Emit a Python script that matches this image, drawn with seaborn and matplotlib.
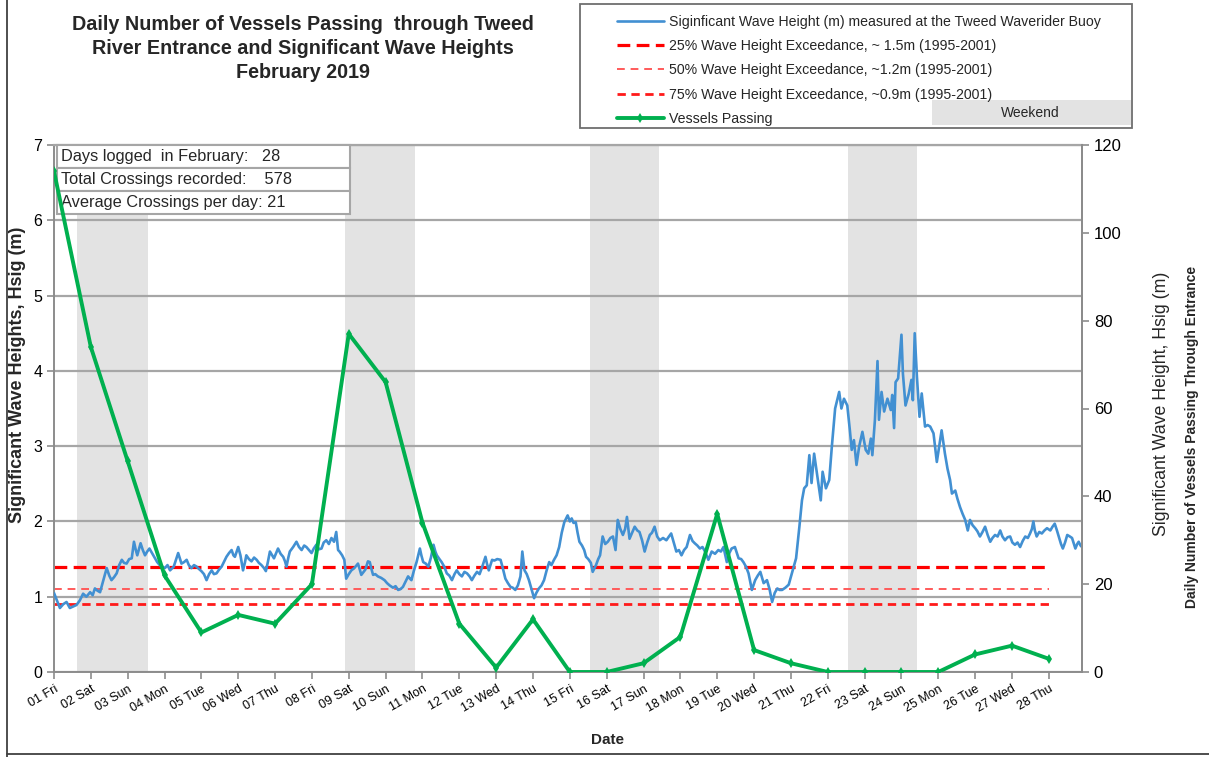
"""
Daily vessel crossings at the Tweed River entrance vs significant wave height
February 2019
"""

import matplotlib
matplotlib.use("Agg")
import matplotlib.pyplot as plt
import seaborn as sns
import pandas as pd
from matplotlib.lines import Line2D
from matplotlib.patches import Rectangle


# Set style
sns.set_style("ticks")
plt.rcParams['font.family'] = ['Liberation Sans', 'DejaVu Sans']

W, H = 1209, 757

# ---------------- data ----------------
day_nums = list(range(1, 29))
day_labels = ['01 Fri', '02 Sat', '03 Sun', '04 Mon', '05 Tue', '06 Wed', '07 Thu',
              '08 Fri', '09 Sat', '10 Sun', '11 Mon', '12 Tue', '13 Wed', '14 Thu',
              '15 Fri', '16 Sat', '17 Sun', '18 Mon', '19 Tue', '20 Wed', '21 Thu',
              '22 Fri', '23 Sat', '24 Sun', '25 Mon', '26 Tue', '27 Wed', '28 Thu']

vessels = [114, 74, 48, 22, 9, 13, 11, 20, 77, 66, 34, 11, 1, 12,
           0, 0, 2, 8, 36, 5, 2, 0, 0, 0, 0, 4, 6, 3]

# wave buoy record (day of month, Hsig in m)
wave_day = [
    1.00, 1.08, 1.16, 1.25, 1.34, 1.43, 1.52, 1.61, 1.70, 1.79, 1.88, 1.98, 2.05, 2.11, 2.18,
    2.25, 2.34, 2.43, 2.50, 2.56, 2.63, 2.70, 2.77, 2.84, 2.90, 2.97, 3.04, 3.11, 3.17, 3.22,
    3.26, 3.35, 3.41, 3.47, 3.53, 3.59, 3.66, 3.74, 3.80, 3.87, 3.94, 4.01, 4.08, 4.15, 4.25,
    4.37, 4.46, 4.53, 4.60, 4.66, 4.73, 4.80, 4.87, 4.93, 5.00, 5.07, 5.14, 5.21, 5.28, 5.34,
    5.41, 5.48, 5.55, 5.62, 5.68, 5.75, 5.82, 5.87, 5.91, 6.00, 6.06, 6.13, 6.18, 6.22, 6.29,
    6.36, 6.43, 6.50, 6.56, 6.63, 6.70, 6.75, 6.80, 6.86, 6.92, 6.97, 7.03, 7.08, 7.15, 7.22,
    7.27, 7.31, 7.36, 7.40, 7.49, 7.58, 7.65, 7.72, 7.79, 7.85, 7.92, 7.99, 8.05, 8.12, 8.19,
    8.26, 8.32, 8.39, 8.46, 8.53, 8.60, 8.66, 8.71, 8.75, 8.82, 8.88, 8.93, 9.00, 9.07, 9.15,
    9.25, 9.30, 9.34, 9.45, 9.52, 9.57, 9.62, 9.66, 9.72, 9.79, 9.88, 9.97, 10.04, 10.11, 10.20,
    10.27, 10.34, 10.40, 10.47, 10.54, 10.61, 10.66, 10.70, 10.77, 10.84, 10.93, 10.97, 11.02, 11.09, 11.16,
    11.23, 11.30, 11.35, 11.39, 11.46, 11.52, 11.59, 11.66, 11.73, 11.80, 11.87, 11.93, 12.00, 12.07, 12.14,
    12.21, 12.28, 12.34, 12.41, 12.48, 12.55, 12.61, 12.71, 12.75, 12.80, 12.89, 12.95, 13.03, 13.12, 13.18,
    13.25, 13.32, 13.39, 13.45, 13.52, 13.59, 13.66, 13.71, 13.77, 13.83, 13.89, 13.96, 14.03, 14.09, 14.16,
    14.23, 14.30, 14.37, 14.44, 14.50, 14.57, 14.64, 14.71, 14.78, 14.85, 14.94, 15.00, 15.05, 15.10, 15.16,
    15.21, 15.26, 15.33, 15.39, 15.44, 15.50, 15.57, 15.62, 15.71, 15.77, 15.82, 15.89, 15.96, 16.03, 16.10,
    16.17, 16.24, 16.30, 16.37, 16.44, 16.50, 16.55, 16.62, 16.69, 16.76, 16.83, 16.89, 16.96, 17.03, 17.10,
    17.17, 17.23, 17.30, 17.37, 17.44, 17.53, 17.62, 17.69, 17.75, 17.82, 17.89, 17.96, 18.03, 18.10, 18.17,
    18.26, 18.33, 18.39, 18.46, 18.53, 18.60, 18.67, 18.76, 18.85, 18.94, 19.03, 19.10, 19.17, 19.26, 19.33,
    19.39, 19.48, 19.58, 19.65, 19.71, 19.78, 19.85, 19.94, 20.03, 20.10, 20.17, 20.26, 20.35, 20.42, 20.49,
    20.56, 20.63, 20.69, 20.76, 20.85, 20.94, 21.05, 21.14, 21.23, 21.30, 21.36, 21.43, 21.50, 21.56, 21.63,
    21.72, 21.81, 21.86, 21.95, 22.04, 22.11, 22.20, 22.31, 22.37, 22.44, 22.53, 22.60, 22.65, 22.71, 22.78,
    22.85, 22.94, 23.03, 23.10, 23.17, 23.21, 23.28, 23.35, 23.39, 23.46, 23.53, 23.62, 23.71, 23.75, 23.80,
    23.84, 23.91, 24.00, 24.04, 24.11, 24.20, 24.27, 24.31, 24.36, 24.42, 24.49, 24.55, 24.64, 24.71, 24.78,
    24.87, 24.96, 25.09, 25.18, 25.25, 25.32, 25.37, 25.46, 25.52, 25.59, 25.66, 25.73, 25.80, 25.86, 25.93,
    26.00, 26.06, 26.13, 26.20, 26.27, 26.34, 26.41, 26.47, 26.54, 26.61, 26.68, 26.74, 26.81, 26.88, 26.95,
    27.01, 27.08, 27.15, 27.22, 27.29, 27.36, 27.43, 27.49, 27.54, 27.58, 27.62, 27.67, 27.74, 27.81, 27.88,
    27.95, 28.04, 28.10, 28.16, 28.22, 28.27, 28.33, 28.38, 28.44, 28.50, 28.57, 28.63, 28.68, 28.72, 28.77,
    28.81, 28.86, 28.90,
]
wave_hsig = [
    1.05, 0.95, 0.85, 0.90, 0.93, 0.85, 0.87, 0.89, 0.95, 1.04, 1.00, 1.06, 1.02, 1.11, 1.08,
    1.06, 1.22, 1.38, 1.28, 1.22, 1.26, 1.31, 1.42, 1.49, 1.45, 1.44, 1.50, 1.51, 1.73, 1.62,
    1.55, 1.71, 1.62, 1.55, 1.60, 1.64, 1.58, 1.51, 1.46, 1.42, 1.40, 1.38, 1.42, 1.35, 1.40,
    1.58, 1.44, 1.46, 1.49, 1.42, 1.38, 1.42, 1.40, 1.37, 1.34, 1.30, 1.22, 1.30, 1.35, 1.30,
    1.31, 1.36, 1.40, 1.47, 1.53, 1.58, 1.62, 1.55, 1.53, 1.66, 1.55, 1.35, 1.45, 1.55, 1.50,
    1.47, 1.52, 1.49, 1.45, 1.42, 1.38, 1.34, 1.45, 1.60, 1.55, 1.51, 1.58, 1.64, 1.57, 1.53,
    1.47, 1.40, 1.52, 1.60, 1.66, 1.73, 1.66, 1.62, 1.68, 1.66, 1.62, 1.58, 1.64, 1.69, 1.63,
    1.64, 1.72, 1.75, 1.70, 1.78, 1.73, 1.86, 1.62, 1.60, 1.55, 1.49, 1.24, 1.30, 1.35, 1.38,
    1.44, 1.36, 1.29, 1.36, 1.47, 1.46, 1.36, 1.29, 1.30, 1.27, 1.25, 1.22, 1.18, 1.15, 1.12,
    1.14, 1.09, 1.10, 1.13, 1.20, 1.27, 1.24, 1.22, 1.35, 1.46, 1.64, 1.55, 1.46, 1.44, 1.40,
    1.52, 1.69, 1.60, 1.55, 1.50, 1.46, 1.40, 1.31, 1.28, 1.22, 1.30, 1.35, 1.30, 1.27, 1.33,
    1.31, 1.27, 1.22, 1.28, 1.33, 1.30, 1.38, 1.53, 1.44, 1.35, 1.49, 1.48, 1.50, 1.49, 1.38,
    1.24, 1.18, 1.13, 1.12, 1.09, 1.15, 1.27, 1.60, 1.35, 1.30, 1.22, 1.10, 0.98, 1.05, 1.11,
    1.15, 1.22, 1.35, 1.46, 1.42, 1.49, 1.55, 1.66, 1.85, 1.99, 2.08, 2.00, 2.04, 1.98, 1.99,
    1.85, 1.73, 1.68, 1.62, 1.53, 1.50, 1.45, 1.33, 1.42, 1.50, 1.55, 1.80, 1.70, 1.73, 1.78,
    1.80, 1.62, 2.02, 1.90, 1.82, 1.90, 2.06, 1.77, 1.85, 1.93, 1.88, 1.86, 1.75, 1.60, 1.72,
    1.82, 1.85, 1.93, 1.80, 1.75, 1.78, 1.75, 1.80, 1.84, 1.72, 1.60, 1.62, 1.55, 1.62, 1.66,
    1.82, 1.74, 1.71, 1.68, 1.64, 1.66, 1.60, 1.49, 1.60, 1.57, 1.62, 1.60, 1.66, 1.46, 1.58,
    1.64, 1.66, 1.51, 1.50, 1.46, 1.40, 1.31, 1.09, 1.22, 1.28, 1.33, 1.18, 1.22, 1.10, 0.93,
    1.05, 1.11, 1.09, 1.09, 1.12, 1.16, 1.35, 1.51, 1.93, 2.28, 2.44, 2.48, 2.88, 2.51, 2.90,
    2.59, 2.28, 2.66, 2.44, 2.55, 2.99, 3.50, 3.72, 3.50, 3.63, 3.54, 3.21, 2.95, 3.08, 2.75,
    2.99, 3.19, 2.95, 2.90, 3.10, 2.88, 3.35, 4.13, 3.35, 3.72, 3.46, 3.63, 3.48, 3.68, 3.24,
    3.85, 3.90, 4.48, 3.96, 3.54, 3.70, 3.88, 3.61, 4.50, 3.92, 3.39, 3.70, 3.26, 3.28, 3.26,
    3.17, 2.79, 3.21, 2.90, 2.70, 2.55, 2.37, 2.41, 2.30, 2.19, 2.10, 2.02, 1.88, 2.02, 1.95,
    1.91, 1.87, 1.80, 1.86, 1.93, 1.82, 1.73, 1.78, 1.82, 1.80, 1.88, 1.80, 1.75, 1.79, 1.80,
    1.72, 1.69, 1.72, 1.66, 1.74, 1.80, 1.78, 1.84, 1.90, 2.00, 1.88, 1.80, 1.86, 1.84, 1.88,
    1.91, 1.88, 1.93, 1.97, 1.88, 1.80, 1.70, 1.64, 1.72, 1.82, 1.80, 1.78, 1.70, 1.64, 1.70,
    1.73, 1.68, 1.66,
]

# weekend shading as drawn in the source chart
weekend_start = [1.62, 8.89, 15.55, 22.54]
weekend_end = [3.54, 10.79, 17.43, 24.43]

exceed_levels = [1.4, 1.1, 0.9]
exceed_labels = ['25% Wave Height Exceedance, ~ 1.5m (1995-2001)',
                 '50% Wave Height Exceedance, ~1.2m (1995-2001)',
                 '75% Wave Height Exceedance, ~0.9m (1995-2001)']
exceed_styles = [dict(color='#ff0000', lw=2.3, dashes=(4, 2)),
                 dict(color='#ff5a5a', lw=1.4, dashes=(4, 3)),
                 dict(color='#ff1a1a', lw=2.0, dashes=(3, 2))]

stats_rows = ['Days logged  in February:   28',
              'Total Crossings recorded:    578',
              'Average Crossings per day: 21']

wave_color = '#4290d2'
vessel_color = '#00b04f'
grid_color = '#a6a6a6'
axis_color = '#8c8c8c'

wave_df = pd.DataFrame({'day': wave_day, 'hsig': wave_hsig})
vessel_df = pd.DataFrame({'day': day_nums, 'vessels': vessels})

# ---------------- figure ----------------
fig = plt.figure(figsize=(W / 100, H / 100), dpi=100)
ax = fig.add_axes([54 / W, 1 - 672 / H, (1082 - 54) / W, 527 / H])
ax2 = ax.twinx()

# weekends
for s, e in zip(weekend_start, weekend_end):
    ax.axvspan(s, e, color='#e3e3e3', lw=0, zorder=1)

# exceedance lines
for lvl, st in zip(exceed_levels, exceed_styles):
    ax.hlines(lvl, day_nums[0], day_nums[-1], colors=st['color'], lw=st['lw'],
              linestyles=(0, st['dashes']), zorder=2)

# wave height
sns.lineplot(data=wave_df, x='day', y='hsig', ax=ax, color=wave_color, lw=1.9,
             legend=False, zorder=3)

# vessels
sns.lineplot(data=vessel_df, x='day', y='vessels', ax=ax2, color=vessel_color, lw=2.8,
             marker='d', markersize=5.5, markeredgewidth=0, legend=False, zorder=4)

ax.set_xlim(1, 28.9)
ax.set_ylim(0, 7)
ax2.set_ylim(0, 120)
ax.set_xlabel('')
ax.set_ylabel('')
ax2.set_ylabel('')

ax.set_xticks(day_nums)
ax.set_xticklabels(day_labels, rotation=30, ha='right', rotation_mode='anchor', fontsize=9)
ax.set_yticks(range(0, 8))
ax2.set_yticks(range(0, 121, 20))
ax.tick_params(axis='y', labelsize=11.5, colors=axis_color, labelcolor='black', length=5, width=1.2)
ax.tick_params(axis='x', colors=axis_color, labelcolor='black', length=5, width=1.2, pad=3)
ax2.tick_params(axis='y', labelsize=12, colors=axis_color, labelcolor='black', length=5, width=1.2)

ax.set_axisbelow('line')
ax.yaxis.grid(True, color=grid_color, lw=1.6)
for side in ['left', 'bottom', 'right']:
    ax.spines[side].set_color(axis_color)
    ax.spines[side].set_linewidth(1.4)
ax.spines['top'].set_color(grid_color)
ax.spines['top'].set_linewidth(1.6)
for side in ['left', 'bottom', 'top']:
    ax2.spines[side].set_visible(False)
ax2.spines['right'].set_color(axis_color)
ax2.spines['right'].set_linewidth(1.4)

# stats box
tbl = ax.table(cellText=[[r] for r in stats_rows], cellLoc='left',
               bbox=[3 / 1028, (672 - 214) / 527, 293 / 1028, 69 / 527], zorder=3)
tbl.auto_set_font_size(False)
tbl.set_fontsize(11.8)
for cell in tbl.get_celld().values():
    cell.set_edgecolor(grid_color)
    cell.set_linewidth(1.5)
    cell.PAD = 0.015

# titles / labels
for i, line in enumerate(['Daily Number of Vessels Passing  through Tweed',
                          'River Entrance and Significant Wave Heights',
                          'February 2019']):
    fig.text(303 / W, 1 - (25 + 24 * i) / H, line, ha='center', va='center',
             fontsize=14.2, fontweight='bold')

fig.text(18 / W, 1 - 375 / H, 'Significant Wave Heights, Hsig (m)', rotation=90,
         ha='center', va='center', fontsize=13, fontweight='bold')
fig.text(1162 / W, 1 - 404 / H, 'Significant Wave Height, Hsig (m)', rotation=90,
         ha='center', va='center', fontsize=12.8)
fig.text(1192 / W, 1 - 437 / H, 'Daily Number of Vessels Passing Through Entrance',
         rotation=90, ha='center', va='center', fontsize=10, fontweight='bold')
fig.text(607 / W, 1 - 740 / H, 'Date', ha='center', va='center', fontsize=11,
         fontweight='bold')

# legend
handles = [Line2D([], [], color=wave_color, lw=1.9)]
for st in exceed_styles:
    handles.append(Line2D([], [], color=st['color'], lw=st['lw'], dashes=st['dashes']))
handles.append(Line2D([], [], color=vessel_color, lw=2.8, marker='d', markersize=5.5,
                      markeredgewidth=0))
labels = ['Siginficant Wave Height (m) measured at the Tweed Waverider Buoy'] + \
    exceed_labels + ['Vessels Passing']
fig.legend(handles, labels, loc='upper left', bbox_to_anchor=(607 / W, 1 - 5 / H),
           frameon=False, fontsize=10.2, handlelength=3.3, handletextpad=0.35,
           labelspacing=0.72, borderpad=0.2)
fig.add_artist(Rectangle((580 / W, 1 - 128 / H), 552 / W, 124 / H, transform=fig.transFigure,
                         fill=False, ec='#6e6e6e', lw=1.3))
fig.add_artist(Rectangle((932 / W, 1 - 125 / H), 199 / W, 25 / H, transform=fig.transFigure,
                         fc='#e3e3e3', ec='none'))
fig.text(1030 / W, 1 - 113 / H, 'Weekend', ha='center', va='center', fontsize=10)

# outer frame
fig.add_artist(Line2D([7 / W, 7 / W], [0, 1], transform=fig.transFigure, color='#404040', lw=1.3))
fig.add_artist(Line2D([7 / W, 1], [3 / H, 3 / H], transform=fig.transFigure, color='#404040', lw=1.3))

fig.savefig('out.png', dpi=100)
